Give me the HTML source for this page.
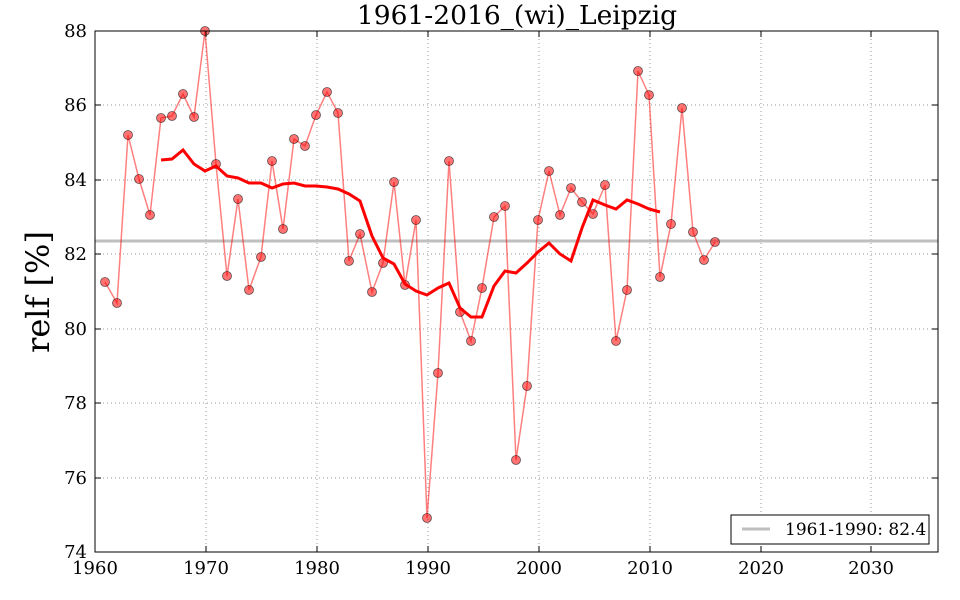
<!DOCTYPE html>
<html><head><meta charset="utf-8"><style>body{margin:0;background:#fff}svg{display:block}</style></head><body>
<svg width="960" height="600" xmlns="http://www.w3.org/2000/svg" font-family="DejaVu Serif, Liberation Serif, serif">
<rect width="960" height="600" fill="#fff"/>
<g stroke="#999" stroke-dasharray="1,3" stroke-width="1">
<line x1="206" y1="31" x2="206" y2="552"/><line x1="317" y1="31" x2="317" y2="552"/><line x1="428" y1="31" x2="428" y2="552"/><line x1="539" y1="31" x2="539" y2="552"/><line x1="650" y1="31" x2="650" y2="552"/><line x1="761" y1="31" x2="761" y2="552"/><line x1="871" y1="31" x2="871" y2="552"/>
<line x1="95" y1="105" x2="938" y2="105"/><line x1="95" y1="180" x2="938" y2="180"/><line x1="95" y1="254" x2="938" y2="254"/><line x1="95" y1="329" x2="938" y2="329"/><line x1="95" y1="403" x2="938" y2="403"/><line x1="95" y1="478" x2="938" y2="478"/>
</g>
<line x1="95" y1="241" x2="938" y2="241" stroke="#bfbfbf" stroke-width="3"/>
<polyline fill="none" stroke="#ff0000" stroke-opacity="0.5" stroke-width="1.5" points="105,282 117,303 128,135 139,179 150,215 161,118 172,116 183,94 194,117 205,31 216,164 227,276 238,199 249,290 261,257 272,161 283,229 294,139 305,146 316,115 327,92 338,113 349,261 360,234 372,292 383,263 394,182 405,285 416,220 427,518 438,373 449,161 460,312 471,341 482,288 494,217 505,206 516,460 527,386 538,220 549,171 560,215 571,188 582,202 593,214 605,185 616,341 627,290 638,71 649,95 660,277 671,224 682,108 693,232 704,260 715,242"/>
<g fill="#ff0000" fill-opacity="0.55" stroke="#000" stroke-opacity="0.6" stroke-width="0.8">
<circle cx="105" cy="282" r="4.5"/><circle cx="117" cy="303" r="4.5"/><circle cx="128" cy="135" r="4.5"/><circle cx="139" cy="179" r="4.5"/><circle cx="150" cy="215" r="4.5"/><circle cx="161" cy="118" r="4.5"/><circle cx="172" cy="116" r="4.5"/><circle cx="183" cy="94" r="4.5"/><circle cx="194" cy="117" r="4.5"/><circle cx="205" cy="31" r="4.5"/><circle cx="216" cy="164" r="4.5"/><circle cx="227" cy="276" r="4.5"/><circle cx="238" cy="199" r="4.5"/><circle cx="249" cy="290" r="4.5"/><circle cx="261" cy="257" r="4.5"/><circle cx="272" cy="161" r="4.5"/><circle cx="283" cy="229" r="4.5"/><circle cx="294" cy="139" r="4.5"/><circle cx="305" cy="146" r="4.5"/><circle cx="316" cy="115" r="4.5"/><circle cx="327" cy="92" r="4.5"/><circle cx="338" cy="113" r="4.5"/><circle cx="349" cy="261" r="4.5"/><circle cx="360" cy="234" r="4.5"/><circle cx="372" cy="292" r="4.5"/><circle cx="383" cy="263" r="4.5"/><circle cx="394" cy="182" r="4.5"/><circle cx="405" cy="285" r="4.5"/><circle cx="416" cy="220" r="4.5"/><circle cx="427" cy="518" r="4.5"/><circle cx="438" cy="373" r="4.5"/><circle cx="449" cy="161" r="4.5"/><circle cx="460" cy="312" r="4.5"/><circle cx="471" cy="341" r="4.5"/><circle cx="482" cy="288" r="4.5"/><circle cx="494" cy="217" r="4.5"/><circle cx="505" cy="206" r="4.5"/><circle cx="516" cy="460" r="4.5"/><circle cx="527" cy="386" r="4.5"/><circle cx="538" cy="220" r="4.5"/><circle cx="549" cy="171" r="4.5"/><circle cx="560" cy="215" r="4.5"/><circle cx="571" cy="188" r="4.5"/><circle cx="582" cy="202" r="4.5"/><circle cx="593" cy="214" r="4.5"/><circle cx="605" cy="185" r="4.5"/><circle cx="616" cy="341" r="4.5"/><circle cx="627" cy="290" r="4.5"/><circle cx="638" cy="71" r="4.5"/><circle cx="649" cy="95" r="4.5"/><circle cx="660" cy="277" r="4.5"/><circle cx="671" cy="224" r="4.5"/><circle cx="682" cy="108" r="4.5"/><circle cx="693" cy="232" r="4.5"/><circle cx="704" cy="260" r="4.5"/><circle cx="715" cy="242" r="4.5"/>
</g>
<polyline fill="none" stroke="#ff0000" stroke-width="3" points="161,160 172,159 183,150 194,164 205,171 216,166 227,176 238,178 249,183 261,183 272,188 283,184 294,183 305,186 316,186 327,187 338,189 349,194 360,201 372,236 383,258 394,264 405,284 416,291 427,295 438,288 449,283 460,308 471,317 482,317 494,286 505,271 516,273 527,263 538,252 549,243 560,254 571,261 582,228 593,200 605,205 616,209 627,200 638,204 649,209 660,212"/>
<rect x="95" y="31" width="843" height="521" fill="none" stroke="#000" stroke-width="1"/>
<g stroke="#000" stroke-width="1">
<line x1="206" y1="552" x2="206" y2="546"/><line x1="317" y1="552" x2="317" y2="546"/><line x1="428" y1="552" x2="428" y2="546"/><line x1="539" y1="552" x2="539" y2="546"/><line x1="650" y1="552" x2="650" y2="546"/><line x1="761" y1="552" x2="761" y2="546"/><line x1="871" y1="552" x2="871" y2="546"/>
<line x1="206" y1="31" x2="206" y2="37"/><line x1="317" y1="31" x2="317" y2="37"/><line x1="428" y1="31" x2="428" y2="37"/><line x1="539" y1="31" x2="539" y2="37"/><line x1="650" y1="31" x2="650" y2="37"/><line x1="761" y1="31" x2="761" y2="37"/><line x1="871" y1="31" x2="871" y2="37"/>
<line x1="95" y1="105" x2="101" y2="105"/><line x1="95" y1="180" x2="101" y2="180"/><line x1="95" y1="254" x2="101" y2="254"/><line x1="95" y1="329" x2="101" y2="329"/><line x1="95" y1="403" x2="101" y2="403"/><line x1="95" y1="478" x2="101" y2="478"/>
<line x1="938" y1="105" x2="932" y2="105"/><line x1="938" y1="180" x2="932" y2="180"/><line x1="938" y1="254" x2="932" y2="254"/><line x1="938" y1="329" x2="932" y2="329"/><line x1="938" y1="403" x2="932" y2="403"/><line x1="938" y1="478" x2="932" y2="478"/>
</g>
<g font-size="18" text-anchor="middle" fill="#000">
<text x="95" y="574">1960</text><text x="206" y="574">1970</text><text x="317" y="574">1980</text><text x="428" y="574">1990</text><text x="539" y="574">2000</text><text x="650" y="574">2010</text><text x="761" y="574">2020</text><text x="871" y="574">2030</text>
</g>
<g font-size="18" text-anchor="end" fill="#000">
<text x="87" y="37">88</text><text x="87" y="111">86</text><text x="87" y="186">84</text><text x="87" y="260">82</text><text x="87" y="335">80</text><text x="87" y="409">78</text><text x="87" y="484">76</text><text x="87" y="558">74</text>
</g>
<text x="517" y="24" font-size="26.5" text-anchor="middle">1961-2016_(wi)_Leipzig</text>
<text transform="translate(49,292) rotate(-90)" font-size="32" text-anchor="middle">relf [%]</text>
<rect x="731" y="515" width="198" height="29" fill="#fff" stroke="#000" stroke-width="1"/>
<line x1="742" y1="529" x2="770" y2="529" stroke="#bfbfbf" stroke-width="3"/>
<text x="785" y="535" font-size="17">1961-1990: 82.4</text>
</svg>
</body></html>
